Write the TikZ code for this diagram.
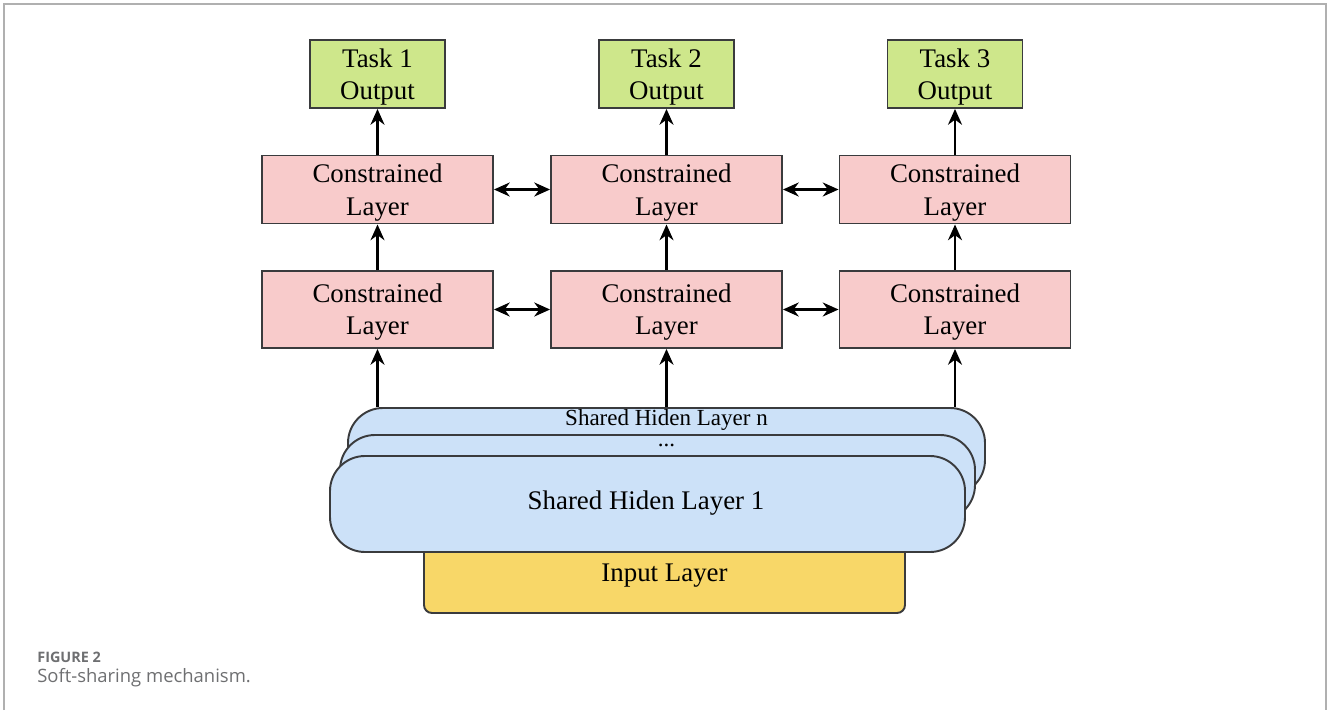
\documentclass[tikz,border=0pt]{standalone}
\usepackage{fontspec}
\setmainfont{Liberation Serif}
\newfontfamily\capfont{Open Sans}
\usetikzlibrary{arrows.meta,calc}
\definecolor{taskgreen}{HTML}{CEE78B}
\definecolor{conpink}{HTML}{F8CBCB}
\definecolor{sharedblue}{HTML}{CCE1F8}
\definecolor{inyellow}{HTML}{F8D768}
\definecolor{strokegray}{HTML}{3A3B3D}
\definecolor{framegray}{HTML}{B0B0B0}
\definecolor{captiongray}{HTML}{6E6F71}
\tikzset{
  box/.style={draw=strokegray, line width=1.1pt, align=center, inner sep=0pt,
    font=\fontsize{15.3}{18.7}\selectfont},
  taskbox/.style={box, fill=taskgreen, minimum width=135*0.02cm, minimum height=68*0.02cm},
  conbox/.style={box, fill=conpink, minimum width=231*0.02cm, minimum height=68*0.02cm},
  sharedbox/.style={box, fill=sharedblue, rounded corners=0.7cm},
  inbox/.style={box, fill=inyellow, rounded corners=0.16cm},
  lbl/.style={inner sep=0pt, align=center, font=\fontsize{15.3}{18.7}\selectfont},
  arr/.style={-{Stealth[length=9pt,width=8pt]}, line width=1.2pt, black},
  darr/.style={{Stealth[length=9pt,width=8pt]}-{Stealth[length=9pt,width=8pt]}, line width=1.2pt, black},
}
\begin{document}
\begin{tikzpicture}[x=0.02cm,y=-0.02cm]
\useasboundingbox (0,0) rectangle (1328,710);
% frame
\draw[framegray, line width=0.8pt] (4,710) -- (4,4) -- (1326,4) -- (1326,710);
% task outputs
\node[taskbox] (t1) at (377.5,74) {};
\node[taskbox] (t2) at (666.5,74) {};
\node[taskbox] (t3) at (955,74) {};
\node[lbl] (t1l) at (377.5,77) {Task 1\\Output};
\node[lbl] (t2l) at (666.5,77) {Task 2\\Output};
\node[lbl] (t3l) at (955,77) {Task 3\\Output};
% constrained layers top row
\node[conbox] (c11) at (377.5,189.5) {};
\node[conbox] (c12) at (666.5,189.5) {};
\node[conbox] (c13) at (955,189.5) {};
\node[lbl] (c11l) at (377.5,192.5) {Constrained\\Layer};
\node[lbl] (c12l) at (666.5,192.5) {Constrained\\Layer};
\node[lbl] (c13l) at (955,192.5) {Constrained\\Layer};
% constrained layers second row
\node[conbox, minimum height=77*0.02cm] (c21) at (377.5,309.5) {};
\node[conbox, minimum height=77*0.02cm] (c22) at (666.5,309.5) {};
\node[conbox, minimum height=77*0.02cm] (c23) at (955,309.5) {};
\node[lbl] (c21l) at (377.5,312) {Constrained\\Layer};
\node[lbl] (c22l) at (666.5,312) {Constrained\\Layer};
\node[lbl] (c23l) at (955,312) {Constrained\\Layer};
% input layer
\node[inbox, minimum width=481*0.02cm, minimum height=100*0.02cm] (inp) at (664.5,563) {};
\node[lbl] (inptext) at (664.5,576) {Input Layer};
% shared hidden layers
\node[sharedbox, minimum width=637*0.02cm, minimum height=87*0.02cm] (sn) at (666.5,451.5) {};
\node[inner sep=0pt, font=\fontsize{13.1}{15}\selectfont] (sntext) at (666.5,420) {Shared Hiden Layer n};
\node[sharedbox, minimum width=635*0.02cm, minimum height=85*0.02cm] (sm) at (657.5,477.5) {};
\node[inner sep=0pt, font=\fontsize{13.1}{15}\selectfont] (smtext) at (666.5,445) {...};
\node[sharedbox, minimum width=635*0.02cm, minimum height=96*0.02cm] (s1) at (647.5,504) {};
\node[lbl] (s1text) at (646,503) {Shared Hiden Layer 1};
% vertical arrows
\draw[arr] (c11.north) -- (t1.south);
\draw[arr] (c12.north) -- (t2.south);
\draw[arr] (c13.north) -- (t3.south);
\draw[arr] (c21.north) -- (c11.south);
\draw[arr] (c22.north) -- (c12.south);
\draw[arr] (c23.north) -- (c13.south);
\draw[arr] (sn.north -| c21.south) -- (c21.south);
\draw[arr] (sn.north -| c22.south) -- (c22.south);
\draw[arr] (sn.north -| c23.south) -- (c23.south);
% horizontal double arrows
\draw[darr] (c11.east) -- (c12.west);
\draw[darr] (c12.east) -- (c13.west);
\draw[darr] (c21.east) -- (c22.west);
\draw[darr] (c22.east) -- (c23.west);
% caption
\node[anchor=west, inner sep=0pt, text=captiongray, font=\capfont\bfseries\fontsize{8.2}{9}\selectfont] (figlabel) at (37,657) {FIGURE 2};
\node[anchor=west, inner sep=0pt, text=captiongray, font=\capfont\fontsize{10.5}{12}\selectfont] (figcap) at (37,678) {Soft-sharing mechanism.};
\end{tikzpicture}
\end{document}
